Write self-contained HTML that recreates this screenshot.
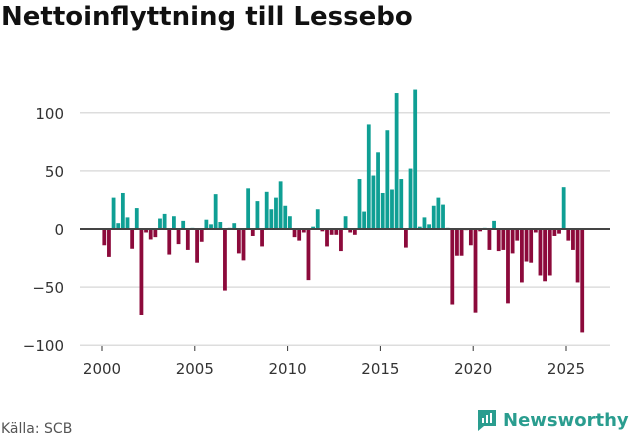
<!DOCTYPE html>
<html><head><meta charset="utf-8"><style>
body{margin:0;background:#fff;width:631px;height:439px;overflow:hidden;font-family:"DejaVu Sans","Liberation Sans",sans-serif}
#t{position:absolute;left:1px;top:2px;font-size:26px;font-weight:bold;color:#111;margin:0}
#src{position:absolute;left:1px;top:421px;font-size:14px;color:#555}
#logo{position:absolute;left:476px;top:408px;display:flex;align-items:center;gap:5px;color:#2a9d8f;font-size:18px;font-weight:bold}
</style></head><body>
<h1 id="t">Nettoinflyttning till Lessebo</h1>
<svg id="c" width="631" height="439" style="position:absolute;left:0;top:0"></svg>
<div id="src">Källa: SCB</div>
<div id="logo"><svg width="22" height="24" viewBox="0 0 22 24"><path d="M2 2h18v16H8l-6 5z" fill="#2a9d8f"/><rect x="6" y="10" width="2" height="5" fill="#fff"/><rect x="10" y="7" width="2" height="8" fill="#fff"/><rect x="14" y="5" width="2" height="10" fill="#fff"/></svg><span>Newsworthy</span></div>
<script>
const values=[-14,-24,27,5,31,10,-17,18,-74,-3,-9,-7,9,13,-22,11,-13,7,-18,1,-29,-11,8,4,30,6,-53,1,5,-21,-27,35,-6,24,-15,32,17,27,41,20,11,-7,-10,-3,-44,2,17,-2,-15,-5,-5,-19,11,-3,-5,43,15,90,46,66,31,85,34,117,43,-16,52,120,2,10,4,20,27,21,1,-65,-23,-23,-1,-14,-72,-2,1,-18,7,-19,-18,-64,-21,-10,-46,-28,-29,-3,-40,-45,-40,-6,-4,36,-10,-18,-46,-89];
const startYear=2000;
const yTicks=[100,50,0,-50,-100];
const yLabels=["100","50","0","\u221250","\u2212100"];
const xTicks=[2000,2005,2010,2015,2020,2025];
const svg=document.getElementById('c');const NS='http://www.w3.org/2000/svg';
const y=v=>229-v*1.162;
const x=t=>102+(t-startYear)*18.56;
function mk(tag,a){const e=document.createElementNS(NS,tag);for(const k in a)e.setAttribute(k,a[k]);svg.appendChild(e);return e;}
yTicks.forEach((v,i)=>{
 if(v!==0){const g=mk('line',{x1:80,x2:610,y1:y(v),y2:y(v),stroke:'#ddd','stroke-width':1.5});
 
 }
 const t=mk('text',{x:64,y:y(v)+6,'text-anchor':'end','font-size':15,fill:'#333'});t.textContent=yLabels[i];
 
 
});
xTicks.forEach(yr=>{
 const l=mk('line',{x1:x(yr),x2:x(yr),y1:346,y2:351,stroke:'#333'});
 
 
 const t=mk('text',{x:x(yr),y:374,'text-anchor':'middle','font-size':15,fill:'#333'});t.textContent=yr;
 
 
});
values.forEach((v,i)=>{
 const cx=x(startYear+i/4)+2.3;
 const r=mk('rect',{x:cx-1.9,width:3.8,y:Math.min(y(v),y(0)),height:Math.abs(y(v)-y(0)),fill:v>=0?'#0f9f94':'#8c0a3b'});
 
 
});
const z=mk('line',{x1:80,x2:610,y1:y(0),y2:y(0),stroke:'#444','stroke-width':2});


</script>
</body></html>
